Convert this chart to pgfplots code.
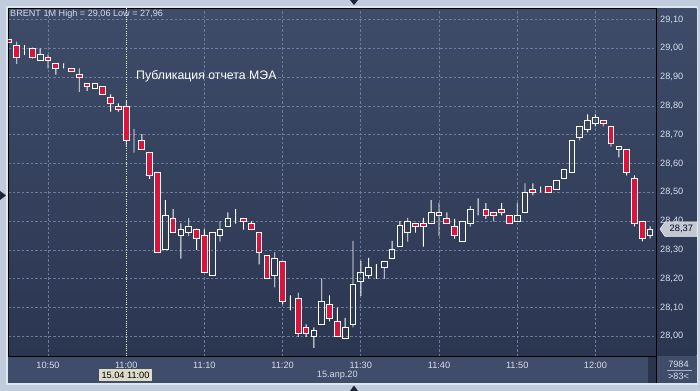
\documentclass[border=0pt]{standalone}
\usepackage{pgfplots}
\pgfplotsset{compat=1.18}
\usepackage{pgfplotstable}
\usepackage{fontspec}
\setmainfont{Liberation Sans}
\definecolor{outerbg}{HTML}{C0CCDC}
\definecolor{panelborder}{HTML}{DDE5EE}
\definecolor{bgtop}{HTML}{3E4C69}
\definecolor{bgbot}{HTML}{2B3651}
\definecolor{stripbg}{HTML}{3F4D6A}
\definecolor{scrollbg}{HTML}{2A344C}
\definecolor{tri}{HTML}{1C2436}
\definecolor{gridc}{HTML}{6B7C9C}
\definecolor{ticktext}{HTML}{D6DEEC}
\definecolor{candlered}{HTML}{DC143C}
\definecolor{datebox}{HTML}{DCDCC8}
\definecolor{pricetag}{HTML}{C4C8D0}
\newcommand\fs[1]{\fontsize{#1bp}{#1bp}\selectfont}

\pgfplotstableread{
t o h l c
0 29.029 29.029 29.021 29.021
1 29.011 29.023 28.946 28.967
2 28.992 29.011 28.977 28.992
3 29.000 29.002 28.965 28.967
4 28.957 29.000 28.957 28.979
5 28.968 28.979 28.930 28.958
6 28.948 28.948 28.909 28.930
7 28.940 28.948 28.930 28.940
8 28.930 28.930 28.921 28.921
9 28.909 28.930 28.849 28.899
10 28.878 28.878 28.852 28.869
11 28.861 28.878 28.861 28.878
12 28.869 28.869 28.840 28.840
13 28.830 28.840 28.780 28.809
14 28.798 28.809 28.780 28.789
15 28.798 28.819 28.659 28.680
16 28.670 28.720 28.638 28.670
17 28.680 28.702 28.649 28.649
18 28.639 28.639 28.547 28.559
19 28.569 28.569 28.292 28.292
20 28.301 28.473 28.301 28.420
21 28.410 28.442 28.361 28.361
22 28.349 28.392 28.270 28.371
23 28.361 28.410 28.349 28.382
24 28.371 28.374 28.300 28.340
25 28.351 28.371 28.222 28.222
26 28.212 28.361 28.212 28.361
27 28.349 28.400 28.329 28.371
28 28.382 28.430 28.382 28.410
29 28.420 28.442 28.391 28.420
30 28.410 28.410 28.370 28.399
31 28.392 28.399 28.371 28.371
32 28.361 28.361 28.250 28.291
33 28.281 28.281 28.201 28.201
34 28.210 28.291 28.170 28.270
35 28.260 28.260 28.111 28.121
36 28.142 28.142 28.090 28.142
37 28.132 28.152 27.998 28.010
38 28.031 28.041 27.998 28.010
39 27.998 28.031 27.960 28.020
40 28.041 28.201 28.041 28.121
41 28.111 28.142 28.052 28.062
42 28.052 28.100 28.000 28.000
43 27.992 28.064 27.992 28.031
44 28.040 28.331 28.031 28.180
45 28.190 28.262 28.140 28.222
46 28.212 28.272 28.201 28.240
47 28.233 28.251 28.199 28.233
48 28.238 28.260 28.199 28.260
49 28.270 28.331 28.270 28.302
50 28.311 28.400 28.311 28.383
51 28.361 28.411 28.329 28.399
52 28.393 28.393 28.360 28.382
53 28.393 28.411 28.311 28.382
54 28.391 28.473 28.391 28.430
55 28.420 28.462 28.349 28.430
56 28.410 28.430 28.392 28.392
57 28.381 28.408 28.339 28.350
58 28.330 28.399 28.330 28.399
59 28.392 28.452 28.381 28.441
60 28.430 28.479 28.420 28.430
61 28.441 28.462 28.408 28.420
62 28.430 28.430 28.399 28.420
63 28.441 28.462 28.420 28.430
64 28.420 28.420 28.392 28.392
65 28.399 28.462 28.399 28.420
66 28.430 28.531 28.430 28.500
67 28.510 28.531 28.489 28.500
68 28.510 28.520 28.500 28.510
69 28.521 28.521 28.500 28.500
70 28.510 28.541 28.510 28.541
71 28.548 28.580 28.548 28.580
72 28.569 28.680 28.569 28.680
73 28.691 28.729 28.680 28.729
74 28.719 28.771 28.708 28.750
75 28.739 28.771 28.729 28.760
76 28.750 28.750 28.729 28.739
77 28.729 28.729 28.659 28.670
78 28.649 28.659 28.621 28.659
79 28.649 28.649 28.559 28.569
80 28.548 28.559 28.382 28.393
81 28.399 28.399 28.330 28.340
82 28.350 28.382 28.340 28.371
}\candles

\begin{document}
\begin{tikzpicture}
\begin{scope}[x=1bp,y=1bp]
\fill[outerbg] (-8.3,-35) rectangle (691.7,356);
\fill[panelborder] (-1.8,-28.5) rectangle (689.2,349.6);
\shade[top color=bgtop, bottom color=bgbot] (0,0) rectangle (688.4,347.7);
\fill[stripbg] (0,0) rectangle (688.4,-27);
\fill[scrollbg] (639.7,-0.5) rectangle (647.7,-27);
\draw[black, line width=0.8bp] (648.4,0) -- (648.4,-27);
\fill[tri] (-8.3,165) -- (-8.3,156) -- (-2.3,160.5) -- cycle;
\fill[tri] (341.7,356) -- (349.7,356) -- (345.7,351) -- cycle;
\fill[tri] (341.7,-35) -- (349.7,-35) -- (345.7,-29.5) -- cycle;
\end{scope}

\begin{axis}[
  scale only axis, width=648.4bp, height=347.7bp, at={(0,0)}, anchor=south west,
  xmin=-0.077, xmax=82.84, ymin=27.9316, ymax=29.1389,
  axis line style={black, line width=0.8bp},
  major tick length=0pt,
  xtick={5,25,35,45,55,65,75},
  xticklabels={10:50,11:10,11:20,11:30,11:40,11:50,12:00},
  extra x ticks={15}, extra x tick labels={11:00},
  extra x tick style={grid=none},
  ytick={28,28.1,28.2,28.3,28.4,28.5,28.6,28.7,28.8,28.9,29,29.1},
  yticklabel pos=right,
  grid=major,
  major grid style={draw=gridc, line width=0.7bp, dash pattern=on 2.5bp off 2bp},
  tick label style={font=\fs{9.2}, text=ticktext},
  xticklabel style={anchor=center, yshift=-9bp},
  yticklabel style={anchor=west},
  yticklabel={\pgfmathprintnumber[fixed,fixed zerofill,precision=2,use comma,assume math mode=true]{\tick}},
  ybar stacked, bar width=0.9bp,
]
\addplot[draw=none, fill=none] table[x=t, y=l] {\candles};
\addplot[fill=white, draw=none] table[x=t, y expr={min(\thisrow{o},\thisrow{c})-\thisrow{l}}] {\candles};
\addplot[draw=none, fill=none] table[x=t, y expr={abs(\thisrow{o}-\thisrow{c})}] {\candles};
\addplot[fill=white, draw=none] table[x=t, y expr={\thisrow{h}-max(\thisrow{o},\thisrow{c})}] {\candles};
\end{axis}

\begin{axis}[
  scale only axis, width=648.4bp, height=347.7bp, at={(0,0)}, anchor=south west,
  xmin=-0.077, xmax=82.84, ymin=27.9316, ymax=29.1389,
  hide axis, ybar stacked, bar width=5.7bp,
]
\addplot[draw=none, fill=none] table[x=t, y expr={min(\thisrow{o},\thisrow{c})}] {\candles};
\addplot[fill=candlered, draw=white, line width=1bp] table[x=t, y expr={max(\thisrow{o}-\thisrow{c},0)}] {\candles};
\addplot[fill=none, draw=white, line width=1bp] table[x=t, y expr={max(\thisrow{c}-\thisrow{o},0)}] {\candles};
\draw[white, line width=0.8bp, dash pattern=on 1bp off 1.3bp] (axis cs:15,27.9316) -- (axis cs:15,29.1389);
\end{axis}

\begin{scope}[x=1bp,y=1bp]
\node[anchor=west, inner sep=0pt, text=ticktext, font=\fs{9.1}] at (1.7,341.5) {BRENT 1M High = 29,06 Low = 27,96};
\node[anchor=west, inner sep=0pt, text=white, font=\fs{12.3}] at (127.7,279.3) {Публикация отчета МЭА};
\fill[datebox] (91,-13) rectangle (143.4,-24.7);
\node[inner sep=0pt, text=black, font=\fs{9.2}] at (117.2,-18.9) {15.04 11:00};
\node[inner sep=0pt, text=ticktext, font=\fs{9.2}] at (329,-19.7) {15.апр.20};
\node[inner sep=0pt, text=ticktext, font=\fs{9.2}] at (670.2,-8) {7984};
\draw[ticktext!70!stripbg, line width=0.6bp] (658.7,-14) -- (683.7,-14);
\node[inner sep=0pt, text=ticktext, font=\fs{9.2}] at (670.2,-20.7) {>83<};
\fill[pricetag, draw=white!85!pricetag, line width=0.5bp] (651.7,127) -- (656.7,134) -- (688.7,134) -- (688.7,119.5) -- (656.7,119.5) -- cycle;
\node[inner sep=0pt, text=black!85!blue, font=\fs{9.3}] at (673,126.7) {28,37};
\end{scope}
\pgfresetboundingbox
\path[use as bounding box] (-8.3bp,-35bp) rectangle (691.7bp,356bp);
\end{tikzpicture}
\end{document}
